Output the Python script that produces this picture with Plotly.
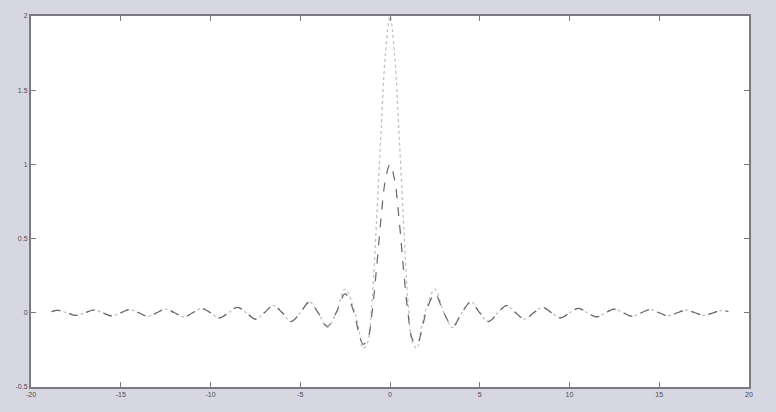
import plotly.graph_objects as go

# sample positions along x
x_values = [
    -18.85, -18.5, -18.0, -17.5, -17.0, -16.5, -16.0, -15.5, -15.0, -14.5, -14.0,
    -13.5, -13.0, -12.5, -12.0, -11.5, -11.0, -10.5, -10.0, -9.5, -9.0, -8.5, -8.0,
    -7.5, -7.0, -6.5, -6.0, -5.5, -5.0, -4.5, -4.0, -3.5, -3.0, -2.5, -2.0,
    -1.75, -1.5, -1.25, -1.0, -0.75, -0.5, -0.25,
    0.0,
    0.25, 0.5, 0.75, 1.0, 1.25, 1.5, 1.75,
    2.0, 2.5, 3.0, 3.5, 4.0, 4.5, 5.0, 5.5, 6.0, 6.5, 7.0, 7.5, 8.0, 8.5, 9.0,
    9.5, 10.0, 10.5, 11.0, 11.5, 12.0, 12.5, 13.0, 13.5, 14.0, 14.5, 15.0, 15.5,
    16.0, 16.5, 17.0, 17.5, 18.0, 18.5, 18.85,
]

# curve with peak 1
curve_one = [
    0.008, 0.017, 0.0, -0.018, 0.0, 0.019, 0.0, -0.021, 0.0, 0.022, 0.0,
    -0.024, 0.0, 0.025, 0.0, -0.028, 0.0, 0.030, 0.0, -0.034, 0.0, 0.037, 0.0,
    -0.042, 0.0, 0.049, 0.0, -0.058, 0.0, 0.071, 0.0, -0.091, 0.0, 0.127, 0.0,
    -0.13, -0.212, -0.18, 0.0, 0.30, 0.637, 0.90,
    1.0,
    0.90, 0.637, 0.30, 0.0, -0.18, -0.212, -0.13,
    0.0, 0.127, 0.0, -0.091, 0.0, 0.071, 0.0, -0.058, 0.0, 0.049, 0.0, -0.042, 0.0, 0.037, 0.0,
    -0.034, 0.0, 0.030, 0.0, -0.028, 0.0, 0.025, 0.0, -0.024, 0.0, 0.022, 0.0, -0.021,
    0.0, 0.019, 0.0, -0.018, 0.0, 0.017, 0.008,
]

# curve with peak 2
curve_two = [
    0.008, 0.017, 0.0, -0.018, 0.0, 0.019, 0.0, -0.021, 0.0, 0.022, 0.0,
    -0.024, 0.0, 0.025, 0.0, -0.028, 0.0, 0.030, 0.0, -0.034, 0.0, 0.037, 0.0,
    -0.042, 0.0, 0.050, 0.0, -0.060, 0.0, 0.075, 0.0, -0.10, 0.0, 0.16, 0.02,
    -0.10, -0.24, -0.20, 0.08, 0.62, 1.22, 1.75,
    2.0,
    1.75, 1.22, 0.62, 0.08, -0.20, -0.24, -0.10,
    0.02, 0.16, 0.0, -0.10, 0.0, 0.075, 0.0, -0.060, 0.0, 0.050, 0.0, -0.042, 0.0, 0.037, 0.0,
    -0.034, 0.0, 0.030, 0.0, -0.028, 0.0, 0.025, 0.0, -0.024, 0.0, 0.022, 0.0, -0.021,
    0.0, 0.019, 0.0, -0.018, 0.0, 0.017, 0.008,
]

x_tick_values = [-20, -15, -10, -5, 0, 5, 10, 15, 20]
x_tick_labels = ["-20", "-15", "-10", "-5", "0", "5", "10", "15", "20"]
y_tick_values = [-0.5, 0, 0.5, 1, 1.5, 2]
y_tick_labels = ["-0.5", "0", "0.5", "1", "1.5", "2"]

fig = go.Figure()
fig.add_trace(go.Scatter(
    x=x_values, y=curve_two, mode="lines",
    line=dict(color="#c2c2c6", width=1.3, dash="dot", shape="spline"),
    showlegend=False, hoverinfo="skip",
))
fig.add_trace(go.Scatter(
    x=x_values, y=curve_one, mode="lines",
    line=dict(color="#66666e", width=1.2, dash="dash", shape="spline"),
    showlegend=False, hoverinfo="skip",
))

axis_common = dict(
    showline=True, linecolor="#7a7a80", linewidth=2, mirror="ticks",
    ticks="inside", ticklen=5, tickcolor="#7a7a80", tickwidth=1.2,
    showgrid=False, zeroline=False,
    tickfont=dict(family="Liberation Sans, Arial, sans-serif", size=7, color="#4a4a55"),
)

fig.update_xaxes(range=[-20, 20], tickvals=x_tick_values, ticktext=x_tick_labels, **axis_common)
fig.update_yaxes(range=[-0.5, 2], tickvals=y_tick_values, ticktext=y_tick_labels, **axis_common)

fig.update_layout(
    width=776, height=412,
    margin=dict(l=31, r=27, t=13, b=25),
    paper_bgcolor="#d6d7e0",
    plot_bgcolor="#ffffff",
)

fig.write_html(
    "out.html",
    config={"displayModeBar": False},
    post_script="document.body.style.margin='0';document.body.style.background='#d6d7e0';",
)
